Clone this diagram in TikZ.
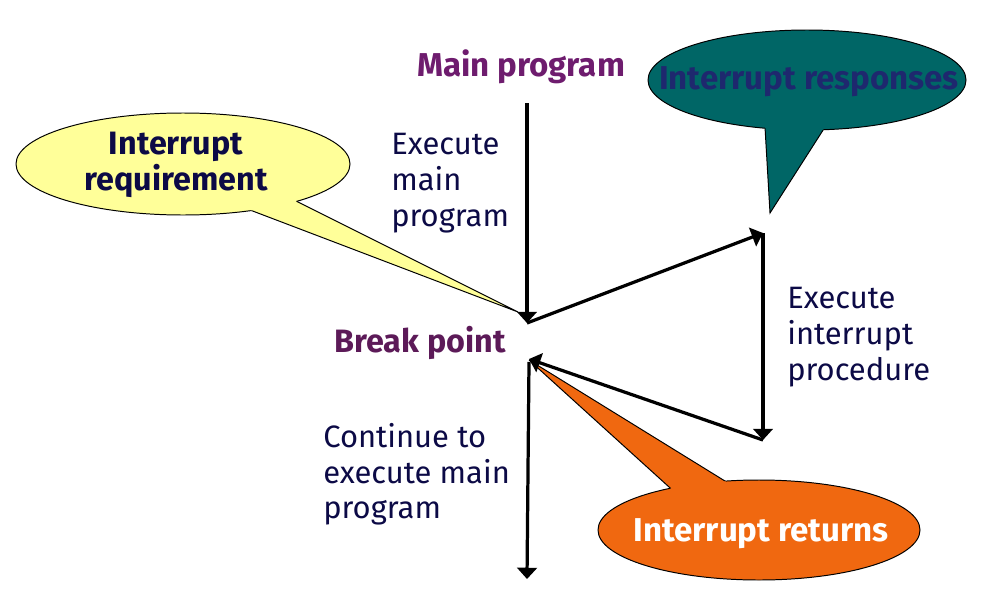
\documentclass[tikz,border=0pt]{standalone}
\usepackage{fontspec}
\setmainfont{Fira Sans}
\usetikzlibrary{arrows.meta}

\definecolor{progpurple}{RGB}{110,28,110}
\definecolor{breakpurple}{RGB}{92,26,88}
\definecolor{textnavy}{RGB}{12,10,70}
\definecolor{reqyellow}{RGB}{255,255,153}
\definecolor{respteal}{RGB}{0,102,102}
\definecolor{respnavy}{RGB}{30,40,110}
\definecolor{retorange}{RGB}{240,104,16}

\tikzset{
    flow/.style={line width=2.3pt, -{Triangle[width=14pt,length=8pt]}},
    plain/.style={text=textnavy, align=left, anchor=north west, inner sep=0pt,
        font=\fontsize{22}{25.4}\selectfont},
    headline/.style={anchor=base, inner sep=0pt,
        font=\bfseries\fontsize{23.5}{25.6}\selectfont},
    bubble/.style={draw=black, line width=0.7pt}
}

\begin{document}
\begin{tikzpicture}[x=0.025cm, y=-0.025cm]

    \def\universe{(0,0) rectangle (1000,592)}
    \useasboundingbox \universe;

    \def\reqbubble{(183,164) ellipse (167 and 51)}
    \def\reqtail{(229,202) -- (518,312) -- (276,191)}
    \def\respbubble{(807,80) ellipse (159 and 50)}
    \def\resptail{(764,110) -- (770,213) -- (834,113)}
    \def\retbubble{(759,530) ellipse (161 and 50)}
    \def\rettail{(690,506) -- (529,360) -- (746,494)}

    %Color stuff:
    \filldraw[bubble, fill=reqyellow] \reqbubble;
    \fill[reqyellow] \reqtail -- cycle;
    \filldraw[bubble, fill=respteal] \respbubble;
    \fill[respteal] \resptail -- cycle;
    \filldraw[bubble, fill=retorange] \retbubble;
    \fill[retorange] \rettail -- cycle;

    %draw tail edges outside the bubbles:
    \begin{scope}[even odd rule]
        \clip \universe \reqbubble;
        \draw[bubble] \reqtail;
    \end{scope}
    \begin{scope}[even odd rule]
        \clip \universe \respbubble;
        \draw[bubble] \resptail;
    \end{scope}
    \begin{scope}[even odd rule]
        \clip \universe \retbubble;
        \draw[bubble] \rettail;
    \end{scope}

    %bubble texts:
    \node[headline, text=textnavy, align=center, anchor=north, font=\bfseries\fontsize{23}{25.6}\selectfont] (reqlbl) at (176,132) {Interrupt\\requirement};
    \node[headline, text=respnavy, font=\bfseries\fontsize{23.5}{28}\selectfont] (resplbl) at (809,89) {Interrupt responses};
    \node[headline, text=white] (retlbl) at (761,541) {Interrupt returns};

    %program flow:
    \coordinate (mainstart) at (527,103);
    \coordinate (brkin) at (527,323);
    \coordinate (isrtop) at (763,233);
    \coordinate (isrbot) at (763,440);
    \coordinate (brkout) at (529,359);
    \coordinate (mainend) at (527,579);

    \draw[flow] (mainstart) -- (brkin);
    \draw[flow] (brkin) -- (isrtop);
    \draw[flow] (isrtop) -- (isrbot);
    \draw[flow] (isrbot) -- (brkout);
    \draw[flow] (brkout |- 0,362) -- (mainend);

    \node[headline, text=progpurple] (mainlbl) at (521,76) {Main program};
    \node[headline, text=breakpurple, font=\bfseries\fontsize{23}{25.6}\selectfont] (brklbl) at (420,352) {Break point};

    \node[plain] (mainnote) at (391,133) {Execute\\main\\program};
    \node[plain] (isrnote) at (787,287) {Execute\\interrupt\\procedure};
    \node[plain] (contnote) at (323,423) {Continue to\\execute main\\program};

\end{tikzpicture}
\end{document}
